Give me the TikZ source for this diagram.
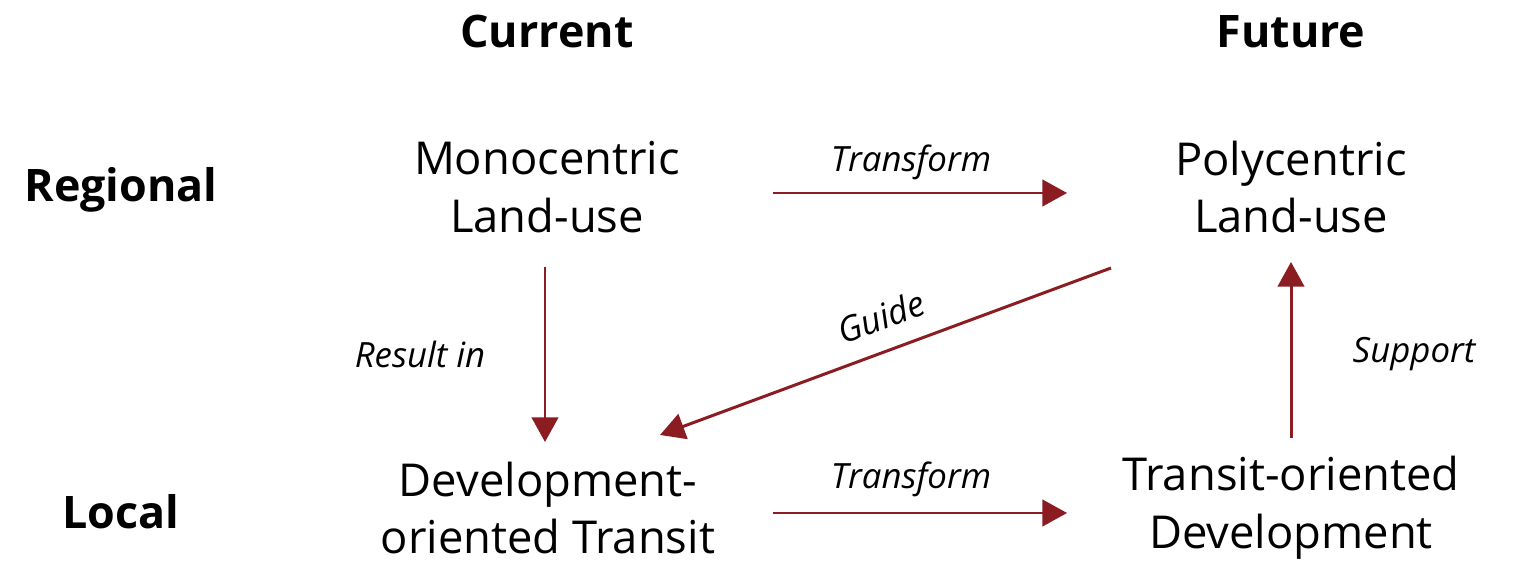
\documentclass[tikz,border=0pt]{standalone}
\usepackage{fontspec}
\setmainfont{Open Sans}
\usetikzlibrary{arrows.meta,calc}
\definecolor{arrowred}{RGB}{139,28,34}
\tikzset{
  main/.style={align=center,font=\fontsize{25.8}{33}\selectfont,inner sep=0pt},
  head/.style={font=\fontsize{25.5}{30}\selectfont\bfseries,inner sep=0pt},
  lbl/.style={font=\fontsize{19.8}{24}\selectfont\itshape,inner sep=0pt},
  conn/.style={draw=arrowred,line width=1.7pt,-{Triangle[length=14pt,width=15pt]}}
}
\begin{document}
\begin{tikzpicture}[x=0.02cm,y=-0.02cm]
\useasboundingbox (0,0) rectangle (1515,563);
\node[head] (cur) at (547,32) {Current};
\node[head] (fut) at (1291,32) {Future};
\node[head] (reg) at (121,190) {Regional};
\node[head] (loc) at (121,512) {Local};
\node[main] (mono) at (547,187) {Monocentric\\Land-use};
\node[main] (poly) at (1291,187) {Polycentric\\Land-use};
\node[main] (dot) at (548,508) {Development-\\oriented Transit};
\node[main] (tod) at (1291,508) {Transit-oriented\\Development};
\coordinate (gs) at (1111,268);
\coordinate (ge) at (660,435);
\draw[conn,shorten <=4.52cm,shorten >=4.48cm] ($(mono.center)+(0,6)$) -- ($(mono.center -| poly.center)+(0,6)$);
\draw[conn,shorten <=4.52cm,shorten >=4.48cm] ($(dot.center -| mono.center)+(0,5)$) -- ($(dot.center -| poly.center)+(0,5)$);
\draw[conn,shorten <=1.6cm,shorten >=1.32cm] ($(mono.center)+(-2,0)$) -- ($(mono.center |- dot.center)+(-2,0)$);
\draw[conn,shorten <=1.4cm,shorten >=1.5cm] (tod.center) -- (poly.center);
\draw[conn] (gs) -- (ge);
\node[lbl] (t1) at (911,162) {Transform};
\node[lbl] (t2) at (911,479) {Transform};
\node[lbl] (ri) at (420,354) {Result in};
\node[lbl] (su) at (1414,354) {Support};
\node[lbl,rotate=20.3] (gu) at (881,317) {Guide};
\end{tikzpicture}
\end{document}
